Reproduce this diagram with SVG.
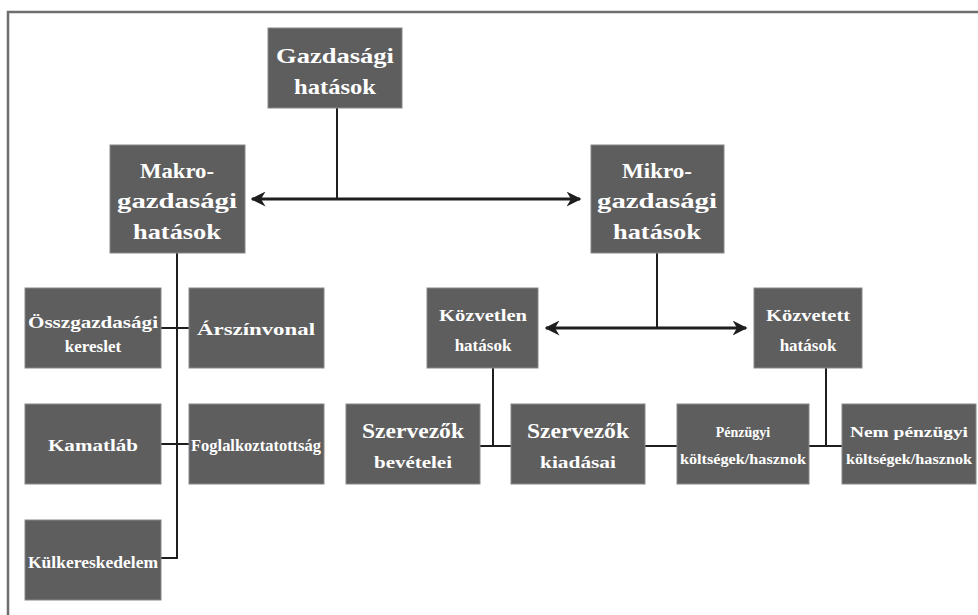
<svg xmlns="http://www.w3.org/2000/svg" width="978" height="615" viewBox="0 0 978 615">
<defs>
<style>
.box{fill:#5e5e5e;stroke:#888;stroke-width:1}
.t{font-family:"Liberation Serif","Times New Roman",serif;font-weight:bold;fill:#fff;text-anchor:middle}
.l{font-size:21px}
.m{font-size:17px}
.s{font-size:14px}
.c{stroke:#1e1e1e;stroke-width:2;fill:none}
.a{stroke:#1e1e1e;stroke-width:3;fill:none}
</style>
<marker id="ah" viewBox="0 0 10 10" refX="9" refY="5" markerWidth="5" markerHeight="5" orient="auto-start-reverse" markerUnits="strokeWidth">
<path d="M0,0 L10,5 L0,10 L3,5 Z" fill="#1e1e1e"/>
</marker>
</defs>
<rect width="978" height="615" fill="#fff"/>
<path d="M8,620 L8,12 L985,12" stroke="#6e6e6e" stroke-width="2.5" fill="none"/>

<g id="connectors">
<line class="c" x1="337" y1="108" x2="337" y2="199"/>
<line class="a" x1="252" y1="199" x2="580" y2="199" marker-start="url(#ah)" marker-end="url(#ah)"/>
<polyline class="c" points="177,253 177,558 161,558"/>
<line class="c" x1="161" y1="328" x2="189" y2="328"/>
<line class="c" x1="161" y1="444" x2="189" y2="444"/>
<line class="c" x1="657" y1="253" x2="657" y2="328"/>
<line class="a" x1="546" y1="328" x2="746" y2="328" marker-start="url(#ah)" marker-end="url(#ah)"/>
<line class="c" x1="493" y1="368" x2="493" y2="446"/>
<line class="c" x1="480" y1="446" x2="511" y2="446"/>
<line class="c" x1="645" y1="446" x2="677" y2="446"/>
<line class="c" x1="826" y1="368" x2="826" y2="446"/>
<line class="c" x1="809" y1="446" x2="842" y2="446"/>
</g>

<g id="gazdasagi">
<rect class="box" x="268" y="28" width="134" height="80"/>
<text class="t l" x="335" y="63" textLength="118" lengthAdjust="spacingAndGlyphs">Gazdasági</text>
<text class="t l" x="335" y="94" textLength="82" lengthAdjust="spacingAndGlyphs">hatások</text>
</g>
<g id="makro">
<rect class="box" x="110" y="145" width="135" height="108"/>
<text class="t l" x="177" y="178" textLength="74" lengthAdjust="spacingAndGlyphs">Makro-</text>
<text class="t l" x="177" y="208" textLength="120" lengthAdjust="spacingAndGlyphs">gazdasági</text>
<text class="t l" x="177" y="239" textLength="88" lengthAdjust="spacingAndGlyphs">hatások</text>
</g>
<g id="mikro">
<rect class="box" x="591" y="145" width="133" height="108"/>
<text class="t l" x="657" y="178" textLength="70" lengthAdjust="spacingAndGlyphs">Mikro-</text>
<text class="t l" x="657" y="208" textLength="120" lengthAdjust="spacingAndGlyphs">gazdasági</text>
<text class="t l" x="657" y="239" textLength="88" lengthAdjust="spacingAndGlyphs">hatások</text>
</g>
<g id="osszgazdasagi">
<rect class="box" x="25" y="288" width="136" height="80"/>
<text class="t m" x="93" y="328" textLength="130" lengthAdjust="spacingAndGlyphs">Összgazdasági</text>
<text class="t m" x="93" y="352">kereslet</text>
</g>
<g id="arszinvonal">
<rect class="box" x="189" y="288" width="135" height="80"/>
<text class="t m" x="256" y="335" textLength="118" lengthAdjust="spacingAndGlyphs">Árszínvonal</text>
</g>
<g id="kamatlab">
<rect class="box" x="25" y="404" width="136" height="80"/>
<text class="t m" x="93" y="451" textLength="90" lengthAdjust="spacingAndGlyphs">Kamatláb</text>
</g>
<g id="foglalkoztatottsag">
<rect class="box" x="189" y="404" width="135" height="80"/>
<text class="t m" x="256" y="451" textLength="130" lengthAdjust="spacingAndGlyphs">Foglalkoztatottság</text>
</g>
<g id="kulkereskedelem">
<rect class="box" x="25" y="520" width="136" height="80"/>
<text class="t m" x="93" y="568" textLength="130" lengthAdjust="spacingAndGlyphs">Külkereskedelem</text>
</g>
<g id="kozvetlen">
<rect class="box" x="427" y="288" width="111" height="80"/>
<text class="t m" x="483" y="321" textLength="88" lengthAdjust="spacingAndGlyphs">Közvetlen</text>
<text class="t m" x="483" y="351">hatások</text>
</g>
<g id="kozvetett">
<rect class="box" x="754" y="288" width="108" height="80"/>
<text class="t m" x="808" y="321" textLength="84" lengthAdjust="spacingAndGlyphs">Közvetett</text>
<text class="t m" x="808" y="351">hatások</text>
</g>
<g id="bevetelei">
<rect class="box" x="346" y="404" width="134" height="80"/>
<text class="t l" x="413" y="438" textLength="102" lengthAdjust="spacingAndGlyphs">Szervezők</text>
<text class="t m" x="413" y="468" textLength="78" lengthAdjust="spacingAndGlyphs">bevételei</text>
</g>
<g id="kiadasai">
<rect class="box" x="511" y="404" width="134" height="80"/>
<text class="t l" x="578" y="438" textLength="102" lengthAdjust="spacingAndGlyphs">Szervezők</text>
<text class="t m" x="578" y="468" textLength="76" lengthAdjust="spacingAndGlyphs">kiadásai</text>
</g>
<g id="penzugyi">
<rect class="box" x="677" y="404" width="132" height="80"/>
<text class="t s" x="743" y="437">Pénzügyi</text>
<text class="t s" x="743" y="464" textLength="126" lengthAdjust="spacingAndGlyphs">költségek/hasznok</text>
</g>
<g id="nempenzugyi">
<rect class="box" x="842" y="404" width="134" height="80"/>
<text class="t s" x="909" y="437" textLength="118" lengthAdjust="spacingAndGlyphs">Nem pénzügyi</text>
<text class="t s" x="909" y="464" textLength="126" lengthAdjust="spacingAndGlyphs">költségek/hasznok</text>
</g>
</svg>
